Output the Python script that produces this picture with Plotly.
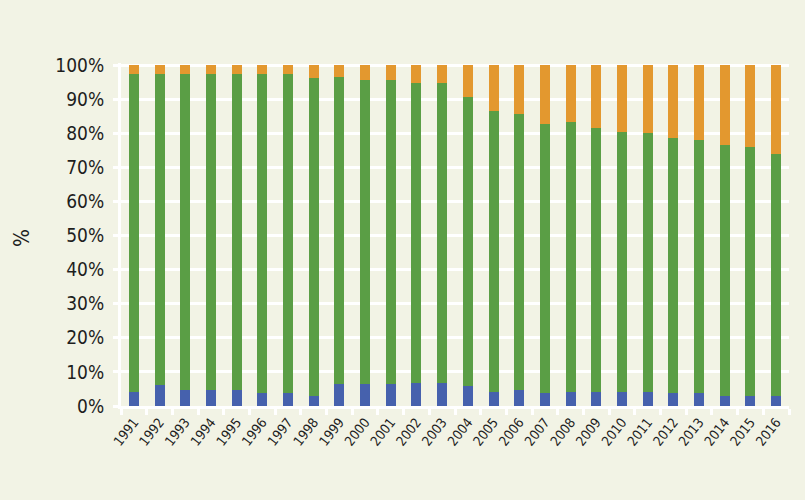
import plotly.graph_objects as go

years = [str(y) for y in range(1991, 2017)]

# share of each part, in percent
blue = [4.2, 6.1, 4.8, 4.7, 4.7, 3.9, 3.9, 2.9, 6.5, 6.5, 6.5, 6.7, 6.7,
        5.9, 4.0, 4.8, 3.9, 4.0, 4.0, 4.0, 4.2, 3.9, 3.9, 2.9, 3.0, 3.0]
green = [93.1, 91.2, 92.5, 92.6, 92.6, 93.4, 93.4, 93.4, 90.1, 89.1, 89.1, 87.9, 87.9,
         84.8, 82.5, 80.9, 78.8, 79.3, 77.5, 76.4, 75.9, 74.7, 74.0, 73.6, 72.9, 71.0]
orange = [2.7, 2.7, 2.7, 2.7, 2.7, 2.7, 2.7, 3.7, 3.4, 4.4, 4.4, 5.4, 5.4,
          9.3, 13.5, 14.3, 17.3, 16.7, 18.5, 19.6, 19.9, 21.4, 22.1, 23.5, 24.1, 26.0]

FONT = "Liberation Sans Narrow, DejaVu Sans Condensed, Arial Narrow, sans-serif"
BG = "#f2f3e5"

fig = go.Figure()
for vals, col in [(blue, "#4661ad"), (green, "#5a9e45"), (orange, "#e3982f")]:
    fig.add_trace(go.Bar(x=years, y=vals, marker_color=col, marker_line_width=0))

# page body has an 8px margin, so the figure is a bit smaller than the window
fig.update_layout(
    barmode="stack",
    bargap=0.61,
    width=797, height=492,
    margin=dict(l=113, r=16, t=55, b=94),
    paper_bgcolor=BG, plot_bgcolor=BG,
    showlegend=False,
    font=dict(family=FONT, color="#1e1e1e"),
)
fig.update_yaxes(
    range=[0, 100.6], dtick=10, ticksuffix="%",
    tickfont=dict(size=19), ticklabelstandoff=5,
    showgrid=True, gridcolor="white", gridwidth=3,
    showline=True, linecolor="white", linewidth=3,
    ticks="outside", tickcolor="white", ticklen=5, tickwidth=3,
    zeroline=False,
)
fig.update_xaxes(
    tickangle=-52, tickfont=dict(size=13.5),
    showline=True, linecolor="white", linewidth=3,
    ticks="outside", tickcolor="white", ticklen=6, tickwidth=3,
    tickson="boundaries",
)
fig.add_annotation(
    text="%", xref="paper", yref="paper", x=-0.148, y=0.49,
    xanchor="center", yanchor="middle",
    showarrow=False, textangle=-90, font=dict(size=21, family=FONT, color="#1e1e1e"),
)

fig.write_html("out.html", post_script="document.body.style.background='%s';" % BG)
